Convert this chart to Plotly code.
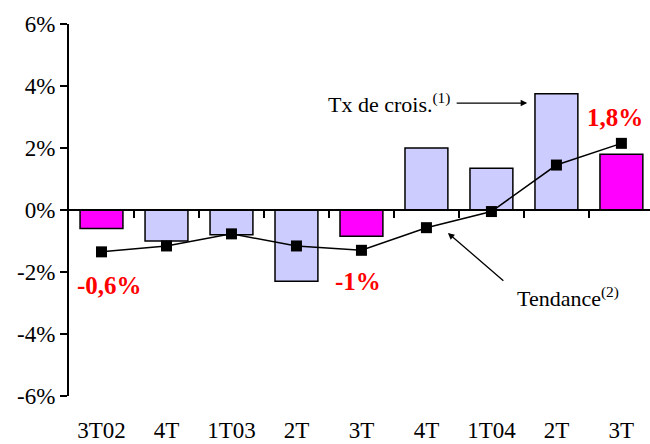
import plotly.graph_objects as go

categories = ["3T02", "4T", "1T03", "2T", "3T", "4T", "1T04", "2T", "3T"]
growth = [-0.6, -1.0, -0.8, -2.3, -0.85, 2.0, 1.35, 3.75, 1.8]
trend = [-1.35, -1.16, -0.77, -1.16, -1.3, -0.57, -0.05, 1.45, 2.15]
highlight = [True, False, False, False, True, False, False, False, True]
y_ticks = [-6, -4, -2, 0, 2, 4, 6]
y_tick_labels = ["-6%", "-4%", "-2%", "0%", "2%", "4%", "6%"]

x = list(range(len(categories)))
bar_colors = ["#FF00FF" if h else "#CCCCFF" for h in highlight]
FONT = "Liberation Serif"
xr = [-0.5, 8.44]

fig = go.Figure()
fig.add_trace(go.Bar(x=x, y=growth, width=0.66, marker=dict(color=bar_colors, line=dict(color="black", width=1.5)),
                     showlegend=False, hoverinfo="skip"))
fig.add_trace(go.Scatter(x=x, y=trend, mode="lines+markers", xaxis="x2",
                         line=dict(color="black", width=1.5),
                         marker=dict(symbol="square", size=11, color="black"),
                         showlegend=False, hoverinfo="skip"))

fig.update_layout(
    width=650, height=444,
    margin=dict(l=69, r=0, t=24, b=48),
    paper_bgcolor="white", plot_bgcolor="white",
    font=dict(family=FONT, size=23, color="black"),
    xaxis=dict(range=xr, tickvals=x, ticktext=categories, showline=False, showgrid=False,
               zeroline=False, ticks="", ticklabelstandoff=18, tickfont=dict(family=FONT, size=23),
               automargin=False),
    xaxis2=dict(range=xr, overlaying="x", anchor="free", position=0.5, side="bottom",
                tickvals=[i + 0.5 for i in range(len(categories))], showticklabels=False,
                ticks="outside", ticklen=7, tickwidth=1.5, tickcolor="black",
                showline=True, linecolor="black", linewidth=1.5, showgrid=False, zeroline=False,
                automargin=False),
    yaxis=dict(range=[-6, 6], tickvals=y_ticks, ticktext=y_tick_labels, showgrid=False, zeroline=False,
               showline=True, linecolor="black", linewidth=2, ticks="outside", ticklen=7,
               tickwidth=2, tickcolor="black", tickfont=dict(family=FONT, size=23), automargin=False),
    bargap=0.34,
)

red = dict(family=FONT, size=25, color="red")
fig.add_annotation(x=0.13, y=-2.42, text="<b>-0,6%</b>", showarrow=False, font=red)
fig.add_annotation(x=3.95, y=-2.32, text="<b>-1%</b>", showarrow=False, font=red)
fig.add_annotation(x=7.9, y=2.97, text="<b>1,8%</b>", showarrow=False, font=red)

lab = dict(family=FONT, size=22, color="black")
fig.add_annotation(x=5.39, y=3.45, text="Tx de crois.<sup>(1)</sup>", showarrow=False,
                   xanchor="right", font=lab)
fig.add_annotation(x=6.55, y=3.45, text="", showarrow=True, ax=-72, ay=0,
                   arrowhead=2, arrowsize=1, arrowwidth=1.3, arrowcolor="black")
fig.add_annotation(x=7.18, y=-2.8, text="Tendance<sup>(2)</sup>", showarrow=False, font=lab)
fig.add_annotation(x=5.33, y=-0.74, text="", showarrow=True, ax=57, ay=49,
                   arrowhead=2, arrowsize=1, arrowwidth=1.3, arrowcolor="black")

fig.write_html("out.html", config={"displayModeBar": False},
               post_script="document.body.style.margin='0';document.body.style.overflow='hidden';")
